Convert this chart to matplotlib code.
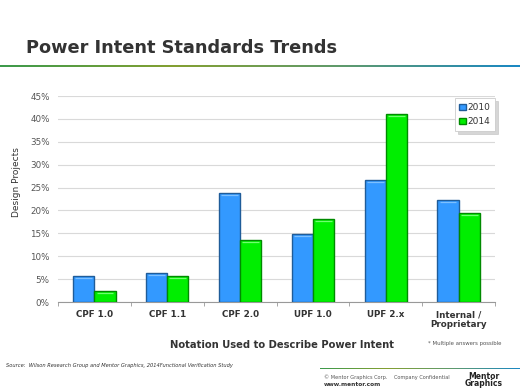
import numpy as np
import matplotlib.pyplot as plt
from matplotlib.colors import LinearSegmentedColormap

categories = ["CPF 1.0", "CPF 1.1", "CPF 2.0", "UPF 1.0", "UPF 2.x", "Internal /\nProprietary"]
years = ["2010", "2014"]
vals_2010 = [5.7, 6.3, 23.9, 14.8, 26.6, 22.3]
vals_2014 = [2.5, 5.7, 13.6, 18.1, 41.1, 19.5]

W, H = 520, 390
fig = plt.figure(figsize=(5.2, 3.9), dpi=100)


def fx(px):
    return px / W


def fy(py):
    return 1 - py / H


# title + gradient rule
fig.text(fx(26), fy(48), "Power Intent Standards Trends", fontsize=12.8,
         fontweight="bold", color="#333333", va="center", ha="left")
cmap = LinearSegmentedColormap.from_list("rule", ["#3c9a4c", "#84a032", "#5e9a6e", "#1a88c4"])
grad_ax = fig.add_axes([0, fy(67.5), 1, 2.5 / H])
grad_ax.imshow(np.linspace(0, 1, 256)[None, :], aspect="auto", cmap=cmap)
grad_ax.axis("off")

# main chart
ax = fig.add_axes([fx(58), fy(302), fx(495) - fx(58), (302 - 96) / H])
x = np.arange(len(categories))
w = 0.29
colors = {"2010": ("#3399ff", "#1f5c99", "#7cc0ff"), "2014": ("#00ee00", "#008a00", "#70ff70")}
for off, year, vals in [(-w / 2, "2010", vals_2010), (w / 2, "2014", vals_2014)]:
    face, edge, light = colors[year]
    ax.bar(x + off, vals, width=w, color=face, edgecolor=edge, linewidth=1.0,
           label=year, zorder=3)
    # light bevel near the top of each bar
    ax.hlines([v - 0.45 for v in vals], x + off - w / 2 + 0.03, x + off + w / 2 - 0.03,
              color=light, linewidth=0.9, zorder=4)

ax.set_ylim(0, 45)
ax.set_xlim(-0.5, len(categories) - 0.5)
ax.set_yticks(np.arange(0, 46, 5))
ax.set_yticklabels([f"{v}%" for v in range(0, 46, 5)], fontsize=6.3, color="#555555")
ax.grid(axis="y", color="#d9d9d9", linewidth=0.8, zorder=0)
ax.set_xticks(x)
ax.set_xticklabels(categories, fontsize=6.3, fontweight="bold", color="#333333",
                   linespacing=1.15, va="top")
ax.set_xticks(np.arange(-0.5, len(categories)), minor=True)
ax.tick_params(axis="x", which="major", length=0, pad=6)
ax.tick_params(axis="x", which="minor", length=3, color="#999999")
ax.tick_params(axis="y", length=0, pad=6)
for s in ["top", "right", "left"]:
    ax.spines[s].set_visible(False)
ax.spines["bottom"].set_color("#999999")
ax.spines["bottom"].set_linewidth(0.8)
ax.set_ylabel("Design Projects", fontsize=6.5, color="#333333")
ax.yaxis.set_label_coords(-0.085, 0.58)

leg = ax.legend(loc="upper right", bbox_to_anchor=(1.01, 1.01), fontsize=6.5,
                frameon=True, fancybox=False,
                shadow={"ox": 2, "oy": -2, "color": "#bbbbbb", "alpha": 0.6},
                handlelength=0.7, handleheight=0.7, handletextpad=0.2,
                borderpad=0.5, labelspacing=0.6, labelcolor="#333333")
leg.get_frame().set_edgecolor("#cccccc")
leg.get_frame().set_linewidth(0.6)

fig.text(fx(282), fy(345), "Notation Used to Describe Power Intent", fontsize=7.2,
         fontweight="bold", color="#333333", ha="center", va="center")
fig.text(fx(428), fy(344), "* Multiple answers possible", fontsize=3.9,
         color="#555555", ha="left", va="center")

# footer
fig.text(fx(6), fy(366), "Source:  Wilson Research Group and Mentor Graphics, 2014Functional Verification Study",
         fontsize=3.7, style="italic", color="#333333", ha="left", va="center")
foot_ax = fig.add_axes([fx(320), fy(369), 1 - fx(320), 1.2 / H])
foot_ax.imshow(np.linspace(0, 1, 256)[None, :], aspect="auto", cmap=cmap)
foot_ax.axis("off")
fig.text(fx(324), fy(377), "\u00a9 Mentor Graphics Corp.    Company Confidential",
         fontsize=3.6, color="#555555", ha="left", va="center")
fig.text(fx(324), fy(385), "www.mentor.com", fontsize=4.2, fontweight="bold",
         color="#333333", ha="left", va="center")
fig.text(fx(484), fy(380), "Mentor\nGraphics", fontsize=5.5, fontweight="heavy",
         color="#222222", ha="center", va="center", linespacing=0.8)

fig.savefig("out.png", dpi=100)
